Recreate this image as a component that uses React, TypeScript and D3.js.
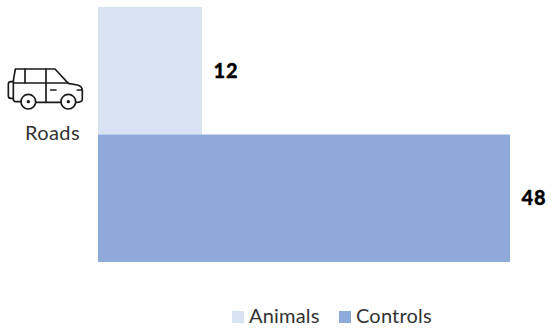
import React from "react";
import * as d3 from "d3";

const categories = ["Animals", "Controls"];
const values = [12, 48];
const colors = ["#d9e2f3", "#8eaadb"];
const rowLabel = "Roads";

const W = 552, H = 331;
const x = d3.scaleLinear().domain([0, 47.95]).range([98, 510]).clamp(true);
const y = d3.scaleBand<string>().domain(categories).range([7, 262]).padding(0);
const font = "Lato, 'Open Sans', sans-serif";

function Car() {
  return (
    <g transform="translate(0,50) scale(0.3333)" style={{ fill: "none", stroke: "#1a1a1a", strokeWidth: 5, strokeLinejoin: "round", strokeLinecap: "round" }}>
      <path d="M62,155 H48 Q40,155 40,147 V92 L46,57 H165 L205,100 L232,105 Q247,108 247,122 V148 Q247,157 232,157 H228" />
      <path d="M108,157 H182" />
      <path d="M40,95 H32 Q25,95 25,103 V137 Q25,145 32,145 H40" />
      <path d="M42,99 H205" />
      <path d="M75,57 V99" />
      <path d="M138,57 V157" />
      <path d="M152,120 H168" />
      <path d="M232,120 H246" />
      <circle cx="85" cy="155" r="22" />
      <circle cx="205" cy="155" r="22" />
      <circle cx="85" cy="155" r="2.5" fill="#1a1a1a" />
      <circle cx="205" cy="155" r="2.5" fill="#1a1a1a" />
    </g>
  );
}

export default function App() {
  return (
    <svg width={W} height={H} style={{ position: "absolute", left: 0, top: 0, background: "#fff" }}>
      {categories.map((c, i) => {
        const x0 = Math.floor(x(0));
        const x1 = Math.ceil(x(values[i]));
        return (
          <g key={c}>
            <rect x={x0} y={y(c)} width={x1 - x0} height={y.bandwidth()} fill={colors[i]} />
            <text x={x1 + 11.5} y={y(c)! + y.bandwidth() / 2 + 7} fontFamily={font} fontWeight={900} fontSize={20} letterSpacing={0.8} stroke="#000" strokeWidth={0.3} fill="#000">
              {values[i]}
            </text>
          </g>
        );
      })}
      <Car />
      <text x={80} y={140} textAnchor="end" fontFamily={font} fontWeight={400} fontSize={20} letterSpacing={0.4} fill="#333">{rowLabel}</text>
      {categories.map((c, i) => {
        const lx = [232, 339][i];
        return (
          <g key={c}>
            <rect x={lx} y={311} width={12} height={12} fill={colors[i]} />
            <text x={lx + 17} y={323} fontFamily={font} fontWeight={400} fontSize={20} letterSpacing={0.2} fill="#333">{c}</text>
          </g>
        );
      })}
    </svg>
  );
}
